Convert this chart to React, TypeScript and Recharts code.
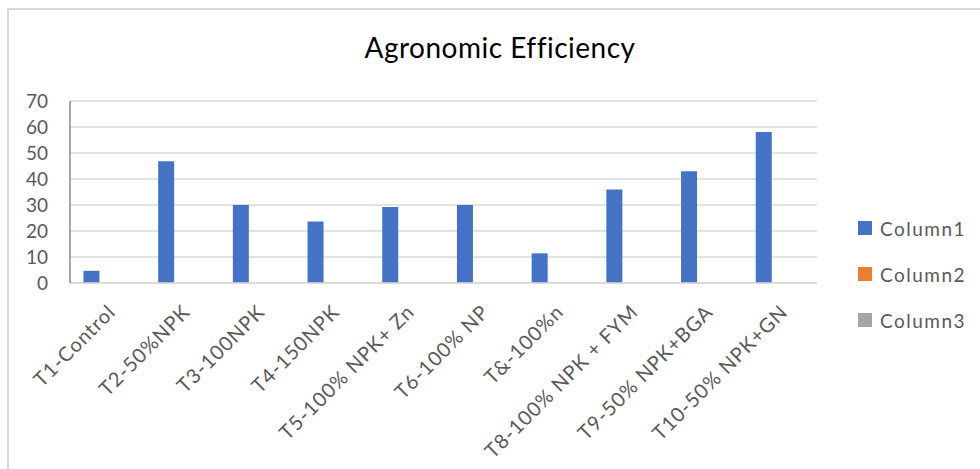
import React from 'react';
import { BarChart, Bar, XAxis, YAxis, CartesianGrid, Legend } from 'recharts';

const categories = [
  'T1-Control',
  'T2-50%NPK',
  'T3-100NPK',
  'T4-150NPK',
  'T5-100% NPK+ Zn',
  'T6-100% NP',
  'T&-100%n',
  'T8-100% NPK + FYM',
  'T9-50% NPK+BGA',
  'T10-50% NPK+GN',
];
const column1 = [4.7, 46.8, 30, 23.7, 29.2, 30, 11.4, 36, 43, 58.1];
const column2: (number | null)[] = [null, null, null, null, null, null, null, null, null, null];
const column3: (number | null)[] = [null, null, null, null, null, null, null, null, null, null];
const yTicks = [0, 10, 20, 30, 40, 50, 60, 70];

const data = categories.map((name, i) => ({
  name,
  Column1: column1[i],
  Column2: column2[i],
  Column3: column3[i],
}));

const FONT = 'Lato, "Open Sans", sans-serif';
const TEXT = '#595959';

const CategoryTick = (props: any) => {
  const { x, y, payload } = props;
  const px = x - 2;
  const py = y + 11;
  return (
    <text
      x={px}
      y={py}
      transform={`rotate(-45, ${px}, ${py})`}
      textAnchor="end"
      dominantBaseline="hanging"
      fill={TEXT}
      fontSize={20}
      fontFamily={FONT}
      letterSpacing={0.9}
    >
      {payload.value}
    </text>
  );
};

const LegendBox = (props: any) => {
  const items = props.payload || [];
  return (
    <div>
      {items.map((it: any) => (
        <div
          key={it.value}
          style={{ display: 'flex', alignItems: 'center', height: 46 }}
        >
          <span style={{ width: 14, height: 14, background: it.color, marginRight: 8 }} />
          <span style={{ color: TEXT, fontSize: 19, fontFamily: FONT, letterSpacing: 1.5 }}>
            {it.value}
          </span>
        </div>
      ))}
    </div>
  );
};

export default function App() {
  return (
    <div style={{ position: 'absolute', left: 0, top: 0, width: 980, height: 469, background: '#fff', overflow: 'hidden' }}>
      <div
        style={{
          position: 'absolute',
          left: 7,
          top: 8,
          width: 1000,
          height: 500,
          borderLeft: '2px solid #d9d9d9',
          borderTop: '2px solid #d9d9d9',
        }}
      />
      <div
        style={{
          position: 'absolute',
          left: 0,
          width: 1000,
          top: 30,
          textAlign: 'center',
          fontFamily: FONT,
          fontSize: 28,
          color: '#000',
          letterSpacing: 0.5,
        }}
      >
        Agronomic Efficiency
      </div>
      <div style={{ position: 'absolute', left: 0, top: 0 }}>
        <BarChart
          width={980}
          height={469}
          data={data}
          margin={{ top: 101, right: 163, bottom: 6, left: 8 }}
          barCategoryGap="18%"
          barGap={0}
        >
          <CartesianGrid vertical={false} stroke="#d9d9d9" strokeWidth={1.5} />
          <XAxis
            dataKey="name"
            interval={0}
            height={180}
            tickLine={false}
            axisLine={{ stroke: '#d9d9d9', strokeWidth: 1.5 }}
            tick={<CategoryTick />}
          />
          <YAxis
            width={62}
            domain={[0, 70]}
            ticks={yTicks}
            interval={0}
            tickSize={0}
            tickMargin={22}
            tickLine={false}
            axisLine={{ stroke: '#8c8c8c', strokeWidth: 1.5 }}
            tick={{ fill: TEXT, fontSize: 19, fontFamily: FONT }}
          />
          <Legend
            layout="vertical"
            align="center"
            verticalAlign="middle"
            content={<LegendBox />}
            wrapperStyle={{ left: 858, top: 205, width: 120 }}
          />
          <Bar dataKey="Column1" fill="#4472C4" isAnimationActive={false} />
          <Bar dataKey="Column2" fill="#ED7D31" isAnimationActive={false} />
          <Bar dataKey="Column3" fill="#A5A5A5" isAnimationActive={false} />
        </BarChart>
      </div>
    </div>
  );
}
